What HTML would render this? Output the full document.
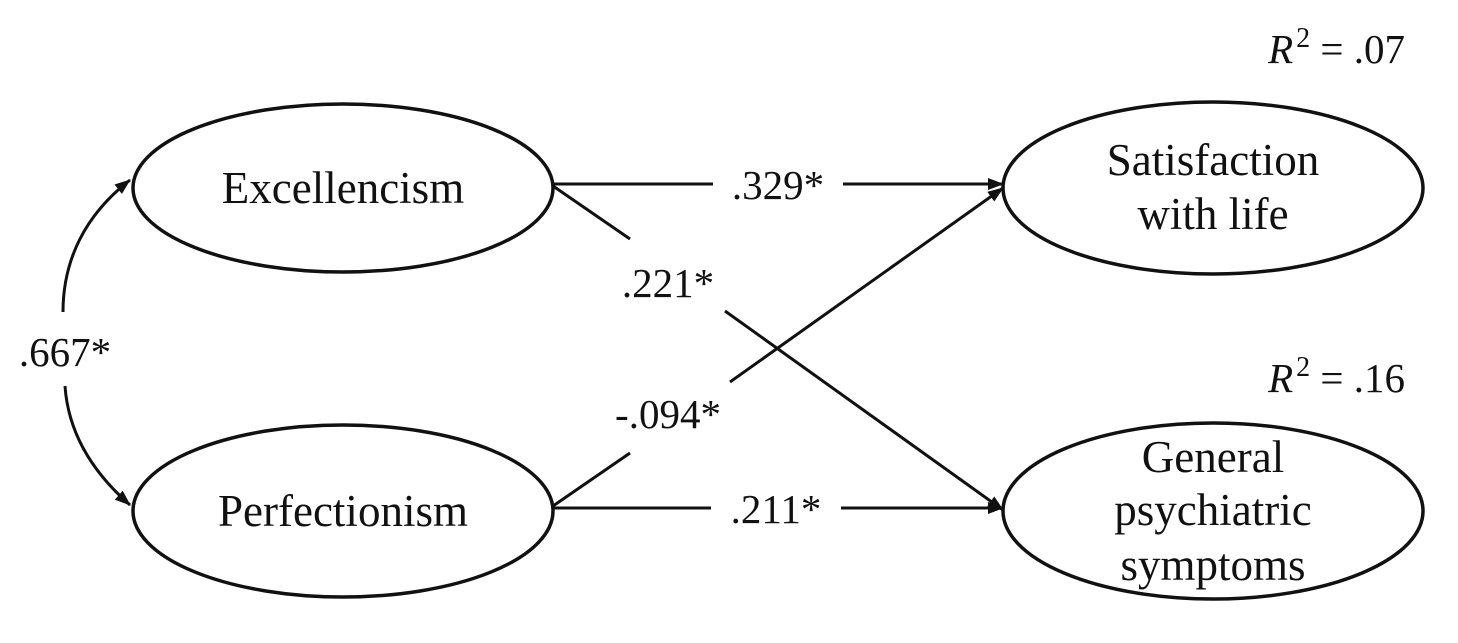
<!DOCTYPE html>
<html><head><style>
html,body{margin:0;padding:0;background:#fff;}
svg{display:block;}
text{font-family:"Liberation Serif",serif;font-size:41px;fill:#111;}
.n{font-size:45px;}
</style></head><body>
<svg width="1458" height="643" viewBox="0 0 1458 643" xmlns="http://www.w3.org/2000/svg">
<defs>
<marker id="b" markerWidth="16" markerHeight="12" refX="15" refY="6" orient="auto" markerUnits="userSpaceOnUse" viewBox="0 0 16 12">
<path d="M0,0 L16,6 L0,12 Z" fill="#111"/>
</marker>
</defs>
<g fill="none" stroke="#111" stroke-width="3.5">
<ellipse cx="343" cy="188" rx="210" ry="84"/>
<ellipse cx="343" cy="511" rx="210" ry="86"/>
<ellipse cx="1213" cy="188" rx="210" ry="86"/>
<ellipse cx="1213" cy="511" rx="210" ry="88"/>
</g>
<g stroke="#111" stroke-width="3" fill="none">
<line x1="553" y1="184" x2="713" y2="184"/>
<line x1="843" y1="184" x2="1003" y2="184" marker-end="url(#b)"/>
<line x1="553" y1="508" x2="711" y2="508"/>
<line x1="841" y1="508" x2="1003" y2="508" marker-end="url(#b)"/>
<line x1="553" y1="186" x2="630" y2="239"/>
<line x1="725" y1="311" x2="1003" y2="510" marker-end="url(#b)"/>
<line x1="553" y1="506" x2="630" y2="453"/>
<line x1="730" y1="382" x2="1003" y2="188" marker-end="url(#b)"/>
<path d="M63,312 C63,260 85,215 130,180" marker-end="url(#b)"/>
<path d="M65,386 C68,430 90,470 130,505" marker-end="url(#b)"/>
</g>
<g text-anchor="middle">
<text class="n" x="343" y="203">Excellencism</text>
<text class="n" x="343" y="526">Perfectionism</text>
<text class="n" x="1213" y="175">Satisfaction</text>
<text class="n" x="1213" y="229">with life</text>
<text class="n" x="1213" y="472">General</text>
<text class="n" x="1213" y="525">psychiatric</text>
<text class="n" x="1213" y="580">symptoms</text>
<text x="778" y="199">.329*</text>
<text x="776" y="523">.211*</text>
<text x="668" y="297">.221*</text>
<text x="668" y="428">-.094*</text>
<text x="65" y="366">.667*</text>
</g>
<text x="1405" y="63" text-anchor="end"><tspan font-style="italic">R</tspan><tspan font-size="28" dx="3" dy="-16">2</tspan><tspan dy="16"> =  .07</tspan></text>
<text x="1405" y="392" text-anchor="end"><tspan font-style="italic">R</tspan><tspan font-size="28" dx="3" dy="-16">2</tspan><tspan dy="16"> =  .16</tspan></text>
</svg>
</body></html>
